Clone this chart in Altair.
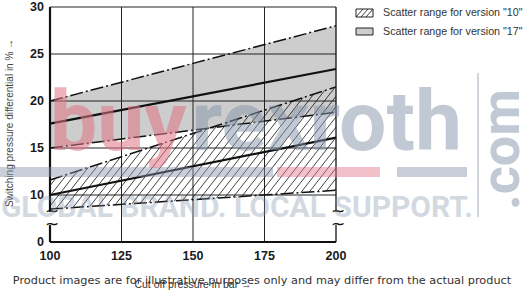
import altair as alt
import numpy as np
import pandas as pd

# ---------------- data ----------------
x_pts = [100, 200]                      # cut-off pressure (bar)
v10_lower = [8.5, 10.5]                 # version "10" scatter range, lower limit
v10_mid = [10.0, 16.1]                  # version "10" typical value
v10_upper = [11.6, 21.5]                # version "10" scatter range, upper limit
v17_lower = [15.0, 18.8]                # version "17" scatter range, lower limit
v17_mid = [17.6, 23.4]                  # version "17" typical value
v17_upper = [20.0, 28.0]                # version "17" scatter range, upper limit

x_ticks = [100, 125, 150, 175, 200]
x_tick_labels = ["100", "125", "150", "175", "200"]
y_ticks = [5, 10, 15, 20, 25, 30]       # the bottom tick (5) is labelled "0": broken axis
y_tick_labels = ["0", "10", "15", "20", "25", "30"]
x_grid = [125, 150, 175]
y_grid = [10, 15, 20, 25, 30]
break_lo, break_hi = 6.8, 8.2           # axis break marks

legend_labels = ['Scatter range for version "10"', 'Scatter range for version "17"']
y_title = "Switching pressure differential in % \u2192"
x_title = "Cut off pressure in bar \u2192"
footer = "Product images are for illustrative purposes only and may differ from the actual product"

W, H = 286, 235
SANS = "Liberation Sans"

xs = alt.Scale(domain=[100, 200], nice=False, zero=False)
ys = alt.Scale(domain=[5, 30], nice=False, zero=False)


def X(f):
    return alt.X(f, scale=xs, axis=None)


def Y(f):
    return alt.Y(f, scale=ys, axis=None)


# ---------------- gray band (version 17) ----------------
band17 = pd.DataFrame({"x": x_pts, "lo": v17_lower, "hi": v17_upper})
gray = alt.Chart(band17).mark_area(color="#cdcdcd").encode(
    x=X("x:Q"), y=Y("lo:Q"), y2="hi:Q")

# ---------------- grid ----------------
vgrid = alt.Chart(pd.DataFrame({"x": x_grid, "a": 5, "b": 30})).mark_rule(
    color="#222", strokeWidth=1).encode(x=X("x:Q"), y=Y("a:Q"), y2="b:Q")
hgrid = alt.Chart(pd.DataFrame({"y": y_grid, "a": 100, "b": 200})).mark_rule(
    color="#222", strokeWidth=1).encode(y=Y("y:Q"), x=X("a:Q"), x2="b:Q")

# ---------------- hatching (version 10), derived from its two limit lines ----------------
a1, b1 = v10_lower[0], (v10_lower[1] - v10_lower[0]) / 100.0
a2, b2 = v10_upper[0], (v10_upper[1] - v10_upper[0]) / 100.0
px_x, px_y = W / 100.0, H / 25.0
s = np.tan(np.radians(52)) * px_x / px_y
dc = s * 2.8
segs = []
for c in np.arange(a1 - 100 * s - dc, a2 + dc, dc):
    uL = (a1 - c) / (s - b1)
    uU = (a2 - c) / (s - b2)
    u0, u1 = max(0.0, uL), min(100.0, uU)
    if u1 > u0:
        segs.append({"x": 100 + u0, "y": c + s * u0, "x2": 100 + u1, "y2": c + s * u1})
hatch = alt.Chart(pd.DataFrame(segs)).mark_rule(color="#111", strokeWidth=0.8).encode(
    x=X("x:Q"), y=Y("y:Q"), x2="x2:Q", y2="y2:Q")

# ---------------- curves ----------------
rows = []
for name, vals, kind in [("v17u", v17_upper, "dd"), ("v17l", v17_lower, "dd"),
                         ("v10u", v10_upper, "dd"), ("v10l", v10_lower, "dd"),
                         ("v17m", v17_mid, "solid"), ("v10m", v10_mid, "solid")]:
    for xv, yv in zip(x_pts, vals):
        rows.append({"x": xv, "y": yv, "s": name, "k": kind})
curves = pd.DataFrame(rows)
dashdot = alt.Chart(curves[curves.k == "dd"]).mark_line(
    color="#111", strokeWidth=1.5, strokeDash=[13, 3, 2, 3]).encode(
    x=X("x:Q"), y=Y("y:Q"), detail="s:N")
solid = alt.Chart(curves[curves.k == "solid"]).mark_line(
    color="#111", strokeWidth=2.2).encode(x=X("x:Q"), y=Y("y:Q"), detail="s:N")

# ---------------- frame with axis breaks ----------------
frame_v = pd.DataFrame({
    "x": [100, 100, 200, 200],
    "a": [5, break_hi, 5, break_hi],
    "b": [break_lo, 30, break_lo, 30],
    "w": [2.2, 2.2, 1.3, 1.3],
})
framev = alt.Chart(frame_v).mark_rule(color="#111").encode(
    x=X("x:Q"), y=Y("a:Q"), y2="b:Q",
    strokeWidth=alt.StrokeWidth("w:Q", scale=None, legend=None))
frameb = alt.Chart(pd.DataFrame({"y": [5], "a": [100], "b": [200]})).mark_rule(
    color="#111", strokeWidth=2.2).encode(y=Y("y:Q"), x=X("a:Q"), x2="b:Q")
squig = alt.Chart(pd.DataFrame({"x": [100, 100, 200, 200],
                                "y": [break_lo, break_hi, break_lo, break_hi],
                                "t": ["~"] * 4})).mark_text(
    font="DejaVu Sans", fontSize=17, color="#111", align="center", baseline="middle",
    dx=2).encode(x=X("x:Q"), y=Y("y:Q"), text="t:N")

# ---------------- tick labels ----------------
xlab = alt.Chart(pd.DataFrame({"v": x_ticks, "t": x_tick_labels})).mark_text(
    font=SANS, fontWeight="bold", fontSize=12.5, color="#1a1a1a",
    align="center", baseline="middle").encode(
    x=X("v:Q"), y=alt.value(H + 14), text="t:N")
ylab = alt.Chart(pd.DataFrame({"v": y_ticks, "t": y_tick_labels})).mark_text(
    font=SANS, fontWeight="bold", fontSize=12.5, color="#1a1a1a",
    align="right", baseline="middle").encode(
    y=Y("v:Q"), x=alt.value(-6), text="t:N")

# ---------------- legend (manual, pixel placed) ----------------
sw_rect = alt.Chart(pd.DataFrame({"y0": [2, 21], "y1": [10, 28], "f": ["white", "#cdcdcd"]})).mark_rect(
    stroke="#222", strokeWidth=1).encode(
    x=alt.value(306), x2=alt.value(323),
    y=alt.Y("y0:Q", scale=None, axis=None), y2="y1:Q",
    fill=alt.Fill("f:N", scale=None, legend=None))
sw_hatch = alt.Chart(pd.DataFrame({"x": [306, 311, 316], "x2": [313, 318, 323]})).mark_rule(
    color="#222", strokeWidth=0.9).encode(
    x=alt.X("x:Q", scale=None, axis=None), x2="x2:Q", y=alt.value(10), y2=alt.value(2))
leg_text = alt.Chart(pd.DataFrame({"t": legend_labels, "y": [6, 24.5]})).mark_text(
    font=SANS, fontSize=10.7, color="#333", align="left", baseline="middle").encode(
    x=alt.value(333), y=alt.Y("y:Q", scale=None, axis=None), text="t:N")

# ---------------- titles and footer ----------------
ytitle = alt.Chart(pd.DataFrame({"t": [y_title]})).mark_text(
    font=SANS, fontSize=10, color="#444", angle=270, align="center", baseline="middle").encode(
    x=alt.value(-40), y=alt.value(116), text="t:N")
xtitle = alt.Chart(pd.DataFrame({"t": [x_title]})).mark_text(
    font=SANS, fontSize=10.5, color="#333", align="center", baseline="middle").encode(
    x=alt.value(143), y=alt.value(278), text="t:N")
foot = alt.Chart(pd.DataFrame({"t": [footer]})).mark_text(
    font="DejaVu Sans", fontSize=11.3, color="#333", align="center", baseline="middle").encode(
    x=alt.value(212), y=alt.value(274), text="t:N")

# ---------------- watermark ----------------
PINK, GREYB = "#e07484", "#8494aa"
wm_buy = alt.Chart(pd.DataFrame({"t": ["buy"]})).mark_text(
    font="Roboto", fontWeight="bold", fontSize=84, color=PINK, opacity=0.55,
    align="left", baseline="alphabetic").encode(x=alt.value(0), y=alt.value(143), text="t:N")
wm_rex = alt.Chart(pd.DataFrame({"t": ["rexroth"]})).mark_text(
    font="Roboto", fontWeight="bold", fontSize=84, color=GREYB, opacity=0.5,
    align="right", baseline="alphabetic").encode(x=alt.value(412), y=alt.value(143), text="t:N")
wm_com = alt.Chart(pd.DataFrame({"t": [".com"]})).mark_text(
    font="Roboto", fontWeight="bold", fontSize=54, color=GREYB, opacity=0.5, angle=270,
    align="left", baseline="alphabetic").encode(x=alt.value(469), y=alt.value(203), text="t:N")
wm_glob = alt.Chart(pd.DataFrame({"t": ["GLOBAL BRAND. LOCAL SUPPORT."]})).mark_text(
    font="Roboto", fontWeight="bold", fontSize=30, color=GREYB, opacity=0.35,
    align="center", baseline="alphabetic").encode(x=alt.value(187), y=alt.value(210), text="t:N")
bars = alt.Chart(pd.DataFrame({"a": [-50, 227, 347], "b": [223, 330, 417],
                               "c": [GREYB, PINK, GREYB]})).mark_rect(opacity=0.45).encode(
    x=alt.X("a:Q", scale=None, axis=None), x2="b:Q", y=alt.value(160), y2=alt.value(170),
    fill=alt.Fill("c:N", scale=None, legend=None))
sep = alt.Chart(pd.DataFrame({"k": [0]})).mark_rule(color=GREYB, opacity=0.5, strokeWidth=1.5).encode(
    x=alt.value(428), y=alt.value(66), y2=alt.value(210))

chart = alt.layer(
    gray, vgrid, hgrid, hatch, dashdot, solid, framev, frameb, squig, xlab, ylab,
    sw_rect, sw_hatch, leg_text, ytitle, xtitle, foot,
    bars, wm_buy, wm_rex, wm_com, wm_glob, sep,
).properties(
    width=W, height=H,
    autosize=alt.AutoSizeParams(type="none"),
    padding={"left": 50, "top": 7, "right": 188, "bottom": 50},
    background="white",
).configure_view(stroke=None)

chart.save("out.html", embed_options={"renderer": "svg", "actions": False})
